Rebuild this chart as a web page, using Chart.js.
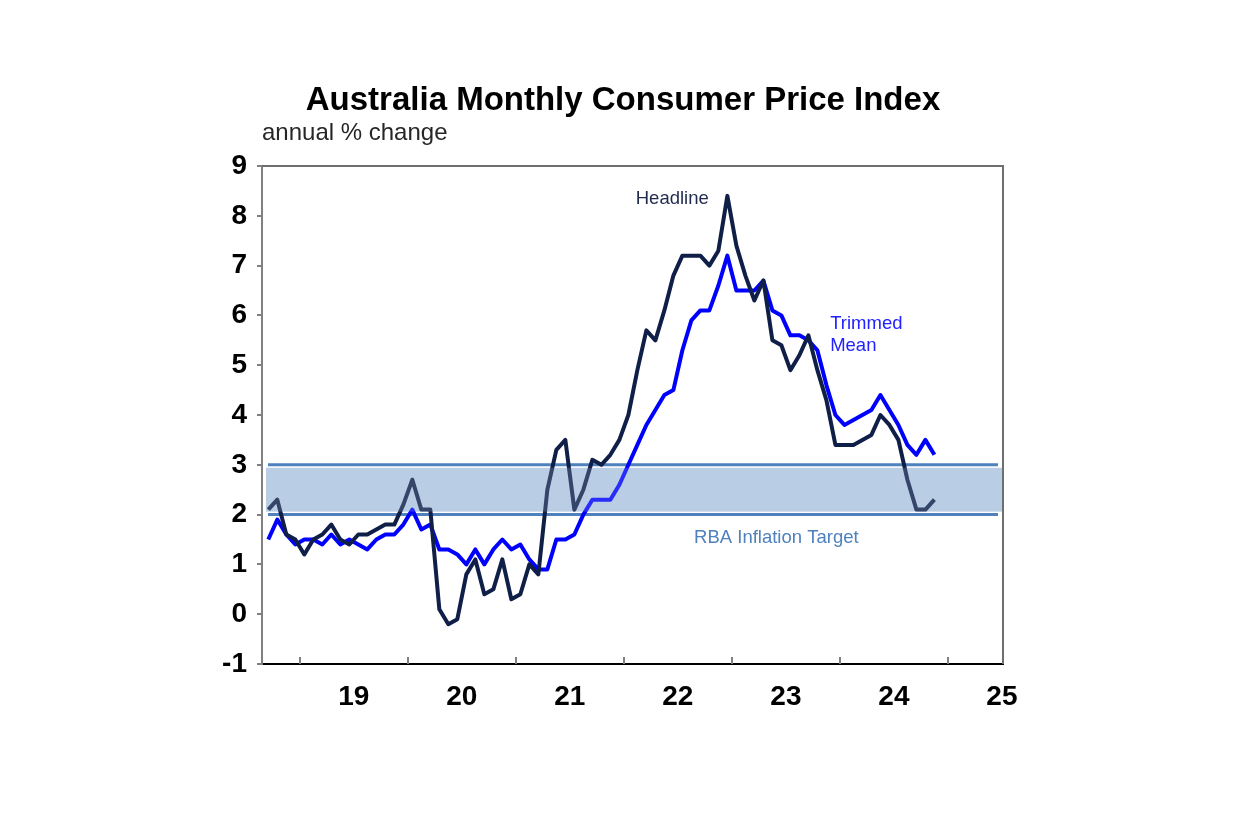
<!DOCTYPE html>
<html>
<head>
<meta charset="utf-8">
<title>Australia Monthly Consumer Price Index</title>
<script src="https://cdn.jsdelivr.net/npm/chart.js@4.4.1/dist/chart.umd.min.js"></script>
<style>
  html, body { margin: 0; padding: 0; background: #fff; }
  #wrap { width: 1249px; height: 832px; position: relative; }
</style>
</head>
<body>
<div id="wrap"><canvas id="cpiChart"></canvas></div>
<script>
// monthly observations, Sep 2018 - Nov 2024
const months = [
    '2018-09', '2018-10', '2018-11', '2018-12',
    '2019-01', '2019-02', '2019-03', '2019-04', '2019-05', '2019-06', '2019-07', '2019-08', '2019-09', '2019-10', '2019-11', '2019-12',
    '2020-01', '2020-02', '2020-03', '2020-04', '2020-05', '2020-06', '2020-07', '2020-08', '2020-09', '2020-10', '2020-11', '2020-12',
    '2021-01', '2021-02', '2021-03', '2021-04', '2021-05', '2021-06', '2021-07', '2021-08', '2021-09', '2021-10', '2021-11', '2021-12',
    '2022-01', '2022-02', '2022-03', '2022-04', '2022-05', '2022-06', '2022-07', '2022-08', '2022-09', '2022-10', '2022-11', '2022-12',
    '2023-01', '2023-02', '2023-03', '2023-04', '2023-05', '2023-06', '2023-07', '2023-08', '2023-09', '2023-10', '2023-11', '2023-12',
    '2024-01', '2024-02', '2024-03', '2024-04', '2024-05', '2024-06', '2024-07', '2024-08', '2024-09', '2024-10', '2024-11'
];

const headline = [
    2.1, 2.3, 1.6, 1.5,
    1.2, 1.5, 1.6, 1.8, 1.5, 1.4, 1.6, 1.6, 1.7, 1.8, 1.8, 2.2,
    2.7, 2.1, 2.1, 0.1, -0.2, -0.1, 0.8, 1.1, 0.4, 0.5, 1.1, 0.3,
    0.4, 1.0, 0.8, 2.5, 3.3, 3.5, 2.1, 2.5, 3.1, 3.0, 3.2, 3.5,
    4.0, 4.9, 5.7, 5.5, 6.1, 6.8, 7.2, 7.2, 7.2, 7.0, 7.3, 8.4,
    7.4, 6.8, 6.3, 6.7, 5.5, 5.4, 4.9, 5.2, 5.6, 4.9, 4.3, 3.4,
    3.4, 3.4, 3.5, 3.6, 4.0, 3.8, 3.5, 2.7, 2.1, 2.1, 2.3
];

const trimmedMean = [
    1.5, 1.9, 1.6, 1.4,
    1.5, 1.5, 1.4, 1.6, 1.4, 1.5, 1.4, 1.3, 1.5, 1.6, 1.6, 1.8,
    2.1, 1.7, 1.8, 1.3, 1.3, 1.2, 1.0, 1.3, 1.0, 1.3, 1.5, 1.3,
    1.4, 1.1, 0.9, 0.9, 1.5, 1.5, 1.6, 2.0, 2.3, 2.3, 2.3, 2.6,
    3.0, 3.4, 3.8, 4.1, 4.4, 4.5, 5.3, 5.9, 6.1, 6.1, 6.6, 7.2,
    6.5, 6.5, 6.5, 6.7, 6.1, 6.0, 5.6, 5.6, 5.5, 5.3, 4.6, 4.0,
    3.8, 3.9, 4.0, 4.1, 4.4, 4.1, 3.8, 3.4, 3.2, 3.5, 3.2
];

const targetBand = [2, 3];   // RBA inflation target range
const yearTicks = [2019, 2020, 2021, 2022, 2023, 2024, 2025];
const xTickLabels = ['19', '20', '21', '22', '23', '24', '25'];

const FONT = "'Liberation Sans', Arial, sans-serif";
const HEADLINE_COLOR = '#0f1f47';
const TRIMMED_COLOR = '#0000ff';
const TARGET_COLOR = '#4f81bd';

// 'YYYY-MM' -> fractional year, centred on the month
function monthToX(m) {
    const [yr, mo] = m.split('-').map(Number);
    return yr + (mo - 0.5) / 12;
}

const headlinePoints = months.map((m, i) => ({ x: monthToX(m), y: headline[i] }));
const trimmedPoints = months.map((m, i) => ({ x: monthToX(m), y: trimmedMean[i] }));

// annotation text, anchored in data units
const notes = [
    { text: 'Headline', x: 2022.11, y: 8.33, color: '#1f2a4d' },
    { text: 'Trimmed', x: 2023.91, y: 5.82, color: '#2222ff' },
    { text: 'Mean', x: 2023.91, y: 5.38, color: '#2222ff' },
    { text: 'RBA Inflation Target', x: 2022.65, y: 1.53, color: TARGET_COLOR }
];

const decorations = {
    id: 'decorations',
    beforeDatasetsDraw(chart) {
        const { ctx, chartArea: a, scales: { y } } = chart;
        const yHi = y.getPixelForValue(targetBand[1]);
        const yLo = y.getPixelForValue(targetBand[0]);
        ctx.save();
        ctx.fillStyle = '#b9cde5';
        ctx.fillRect(a.left + 4, yHi + 3, a.right - a.left - 5, yLo - yHi - 6);
        ctx.strokeStyle = TARGET_COLOR;
        ctx.lineWidth = 3;
        ctx.beginPath();
        ctx.moveTo(a.left + 6, yHi); ctx.lineTo(a.right - 5, yHi);
        ctx.moveTo(a.left + 6, yLo); ctx.lineTo(a.right - 5, yLo);
        ctx.stroke();
        ctx.restore();
    },
    afterDatasetsDraw(chart) {
        const { ctx, chartArea: a, scales: { x, y } } = chart;
        const yHi = y.getPixelForValue(targetBand[1]);
        const yLo = y.getPixelForValue(targetBand[0]);
        ctx.save();
        // band sits slightly over the lines
        ctx.fillStyle = 'rgba(185, 205, 229, 0.22)';
        ctx.fillRect(a.left + 4, yHi + 3, a.right - a.left - 5, yLo - yHi - 6);

        // frame: top and right
        ctx.strokeStyle = '#6e6e6e';
        ctx.lineWidth = 2;
        ctx.beginPath();
        ctx.moveTo(a.left, a.top);
        ctx.lineTo(a.right, a.top);
        ctx.lineTo(a.right, a.bottom);
        ctx.stroke();

        // year boundary ticks pointing into the plot
        ctx.strokeStyle = '#808080';
        ctx.beginPath();
        yearTicks.forEach(v => {
            const px = Math.round(x.getPixelForValue(v));
            ctx.moveTo(px, a.bottom);
            ctx.lineTo(px, a.bottom - 7);
        });
        ctx.stroke();
        ctx.restore();
    },
    afterDraw(chart) {
        const { ctx, chartArea: a, scales: { x, y } } = chart;
        ctx.save();
        ctx.textBaseline = 'alphabetic';

        ctx.fillStyle = '#000';
        ctx.font = `bold 33px ${FONT}`;
        ctx.textAlign = 'center';
        ctx.fillText('Australia Monthly Consumer Price Index', 623, 110);

        ctx.fillStyle = '#262626';
        ctx.font = `24px ${FONT}`;
        ctx.textAlign = 'left';
        ctx.fillText('annual % change', a.left, 140);

        ctx.textBaseline = 'middle';
        notes.forEach(n => {
            ctx.fillStyle = n.color;
            ctx.font = `18.5px ${FONT}`;
            ctx.fillText(n.text, x.getPixelForValue(n.x), y.getPixelForValue(n.y));
        });
        ctx.restore();
    }
};

new Chart(document.getElementById('cpiChart'), {
    type: 'line',
    data: {
        datasets: [
            {
                label: 'Headline',
                data: headlinePoints,
                borderColor: HEADLINE_COLOR,
                borderWidth: 4,
                borderJoinStyle: 'round',
                pointRadius: 0,
                tension: 0,
                fill: false
            },
            {
                label: 'Trimmed Mean',
                data: trimmedPoints,
                borderColor: TRIMMED_COLOR,
                borderWidth: 4,
                borderJoinStyle: 'round',
                pointRadius: 0,
                tension: 0,
                fill: false
            }
        ]
    },
    options: {
        responsive: true,
        maintainAspectRatio: false,
        animation: false,
        devicePixelRatio: 1,
        layout: {
            padding: { left: 192, right: 246, top: 166, bottom: 108 }
        },
        scales: {
            x: {
                type: 'linear',
                position: 'bottom',
                min: 2018.65,
                max: 2025.51,
                afterBuildTicks: axis => {
                    axis.ticks = yearTicks.map(v => ({ value: v + 0.5 }));
                },
                afterFit: axis => { axis.height = 60; },
                grid: { display: false, drawTicks: false },
                border: { display: true, color: '#000', width: 2 },
                ticks: {
                    autoSkip: false,
                    maxRotation: 0,
                    padding: 16,
                    color: '#000',
                    font: { family: FONT, size: 28, weight: 'bold' },
                    callback: value => xTickLabels[yearTicks.indexOf(Math.floor(value))]
                }
            },
            y: {
                min: -1,
                max: 9,
                afterFit: axis => { axis.width = 70; },
                grid: {
                    drawOnChartArea: false,
                    drawTicks: true,
                    tickLength: 5,
                    color: '#808080',
                    lineWidth: 2
                },
                border: { display: true, color: '#808080', width: 2 },
                ticks: {
                    stepSize: 1,
                    padding: 10,
                    color: '#000',
                    font: { family: FONT, size: 28, weight: 'bold' }
                }
            }
        },
        plugins: {
            legend: { display: false },
            tooltip: { enabled: false },
            title: { display: false }
        }
    },
    plugins: [decorations]
});
</script>
</body>
</html>
